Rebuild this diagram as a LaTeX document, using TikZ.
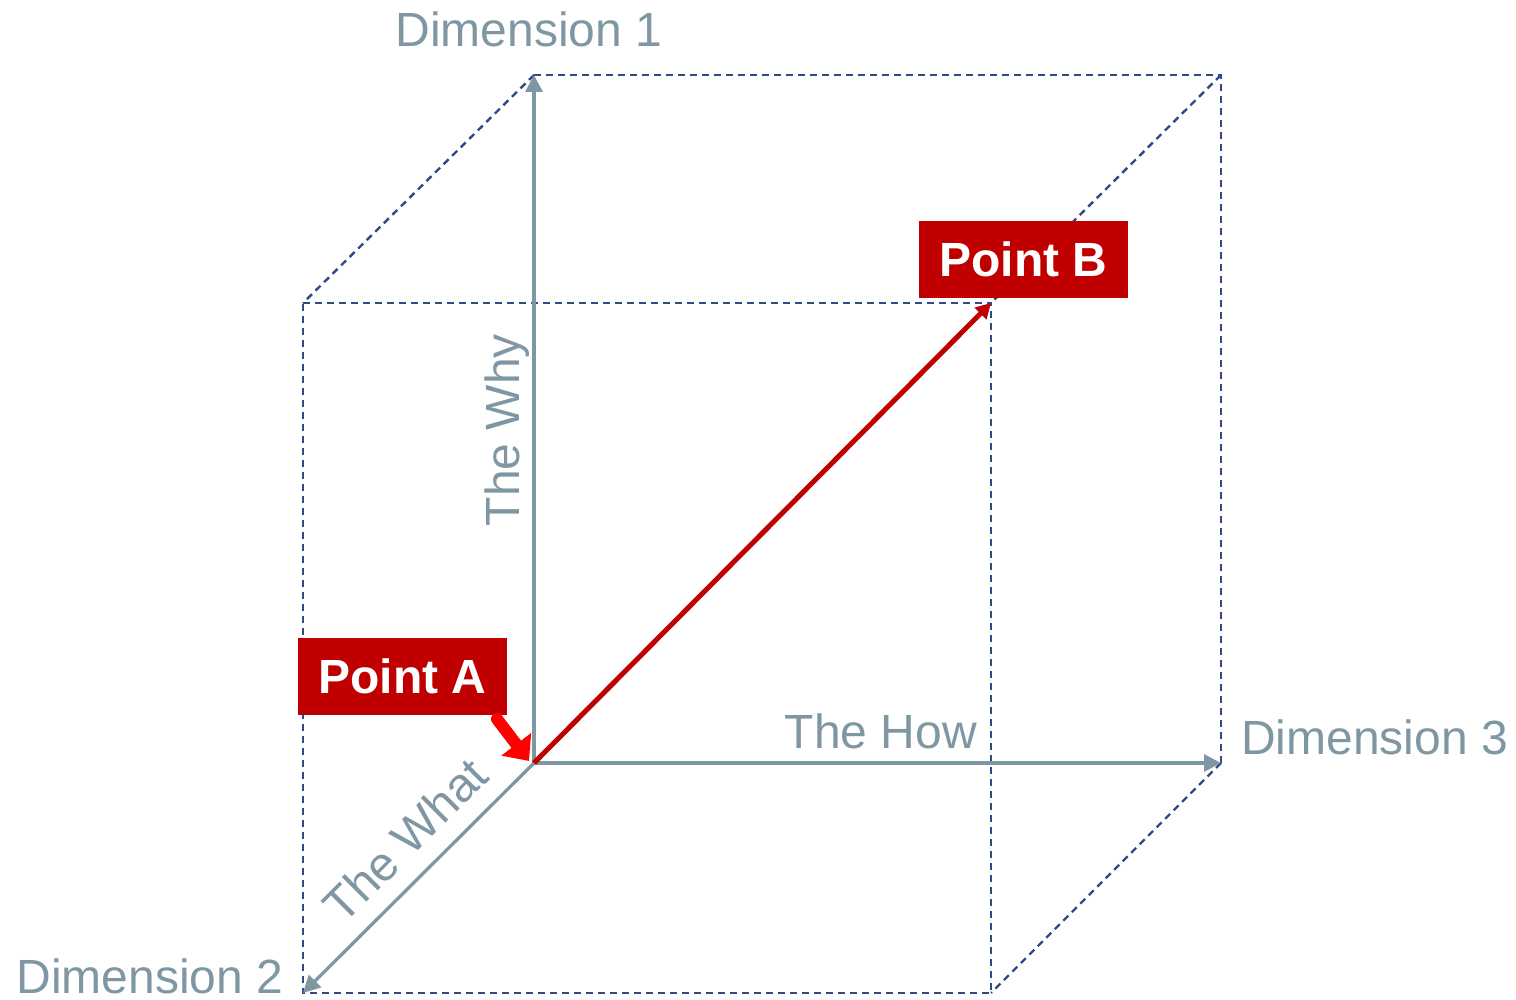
\documentclass[tikz,border=0pt]{standalone}
\usepackage{fontspec}
\setmainfont{Liberation Sans}
\usetikzlibrary{arrows.meta}
\definecolor{axisgray}{HTML}{7F97A3}
\definecolor{dashblue}{HTML}{2F4A85}
\definecolor{darkred}{HTML}{C00000}
\definecolor{brightred}{HTML}{FF0000}
\tikzset{
  axis/.style={draw=axisgray, line width=3.3pt, -{Triangle[length=17pt,width=17pt]}},
  edge/.style={draw=dashblue, line width=2.4pt, dash pattern=on 7pt off 5pt},
  lbl/.style={text=axisgray, font=\fontsize{48}{50}\selectfont, inner sep=0pt},
  pointbox/.style={fill=darkred, text=white, font=\fontsize{48}{50}\selectfont\bfseries, minimum width=209pt, minimum height=77pt, inner sep=0pt},
}
\begin{document}
\begin{tikzpicture}[x=1pt,y=-1pt]
\useasboundingbox (0,0) rectangle (1516,1000);
% cube corners
\coordinate (O) at (534,763);
\coordinate (BTL) at (534,75);
\coordinate (BTR) at (1221,75);
\coordinate (BBR) at (1221,763);
\coordinate (FTL) at (303,303);
\coordinate (FTR) at (991,303);
\coordinate (FBR) at (991,993);
\coordinate (FBL) at (303,993);
% dashed edges
\draw[edge] (FTL) -- (FTR) -- (FBR) -- (FBL) -- cycle;
\draw[edge] (BTL) -- (BTR) -- (BBR);
\draw[edge] (BTL) -- (FTL);
\draw[edge] (BTR) -- (FTR);
\draw[edge] (BBR) -- (FBR);
% axes
\draw[axis] (O) -- (BTL);
\draw[axis] (O) -- (BBR);
\draw[axis] (O) -- (FBL);
% main red arrow
\draw[draw=darkred, line width=5pt, -{Triangle[length=15pt,width=16pt]}] (O) -- (FTR);
% labels
\node[lbl, anchor=base] (d1) at (529,47) {Dimension 1};
\node[lbl, anchor=base] (d2) at (150,993) {Dimension 2};
\node[lbl, anchor=base west] (d3) at (1241,754) {Dimension 3};
\node[lbl, anchor=base] (how) at (881,748) {The How};
\node[lbl, rotate=90] (why) at (507,430) {The Why};
\node[lbl, rotate=45] (what) at (405,840) {The What};
% point boxes
\node[pointbox] (pb) at (1023.5,259.5) {Point B};
\node[pointbox] (pa) at (402.5,676.5) {Point A};
% point A pointer
\coordinate (pat) at (497,719);
\coordinate (pah) at (529,761);
\draw[draw=brightred, fill=brightred, line width=12pt, line cap=round, -{Triangle[length=21pt,width=36pt]}] (pat) -- (pah);
\end{tikzpicture}
\end{document}
